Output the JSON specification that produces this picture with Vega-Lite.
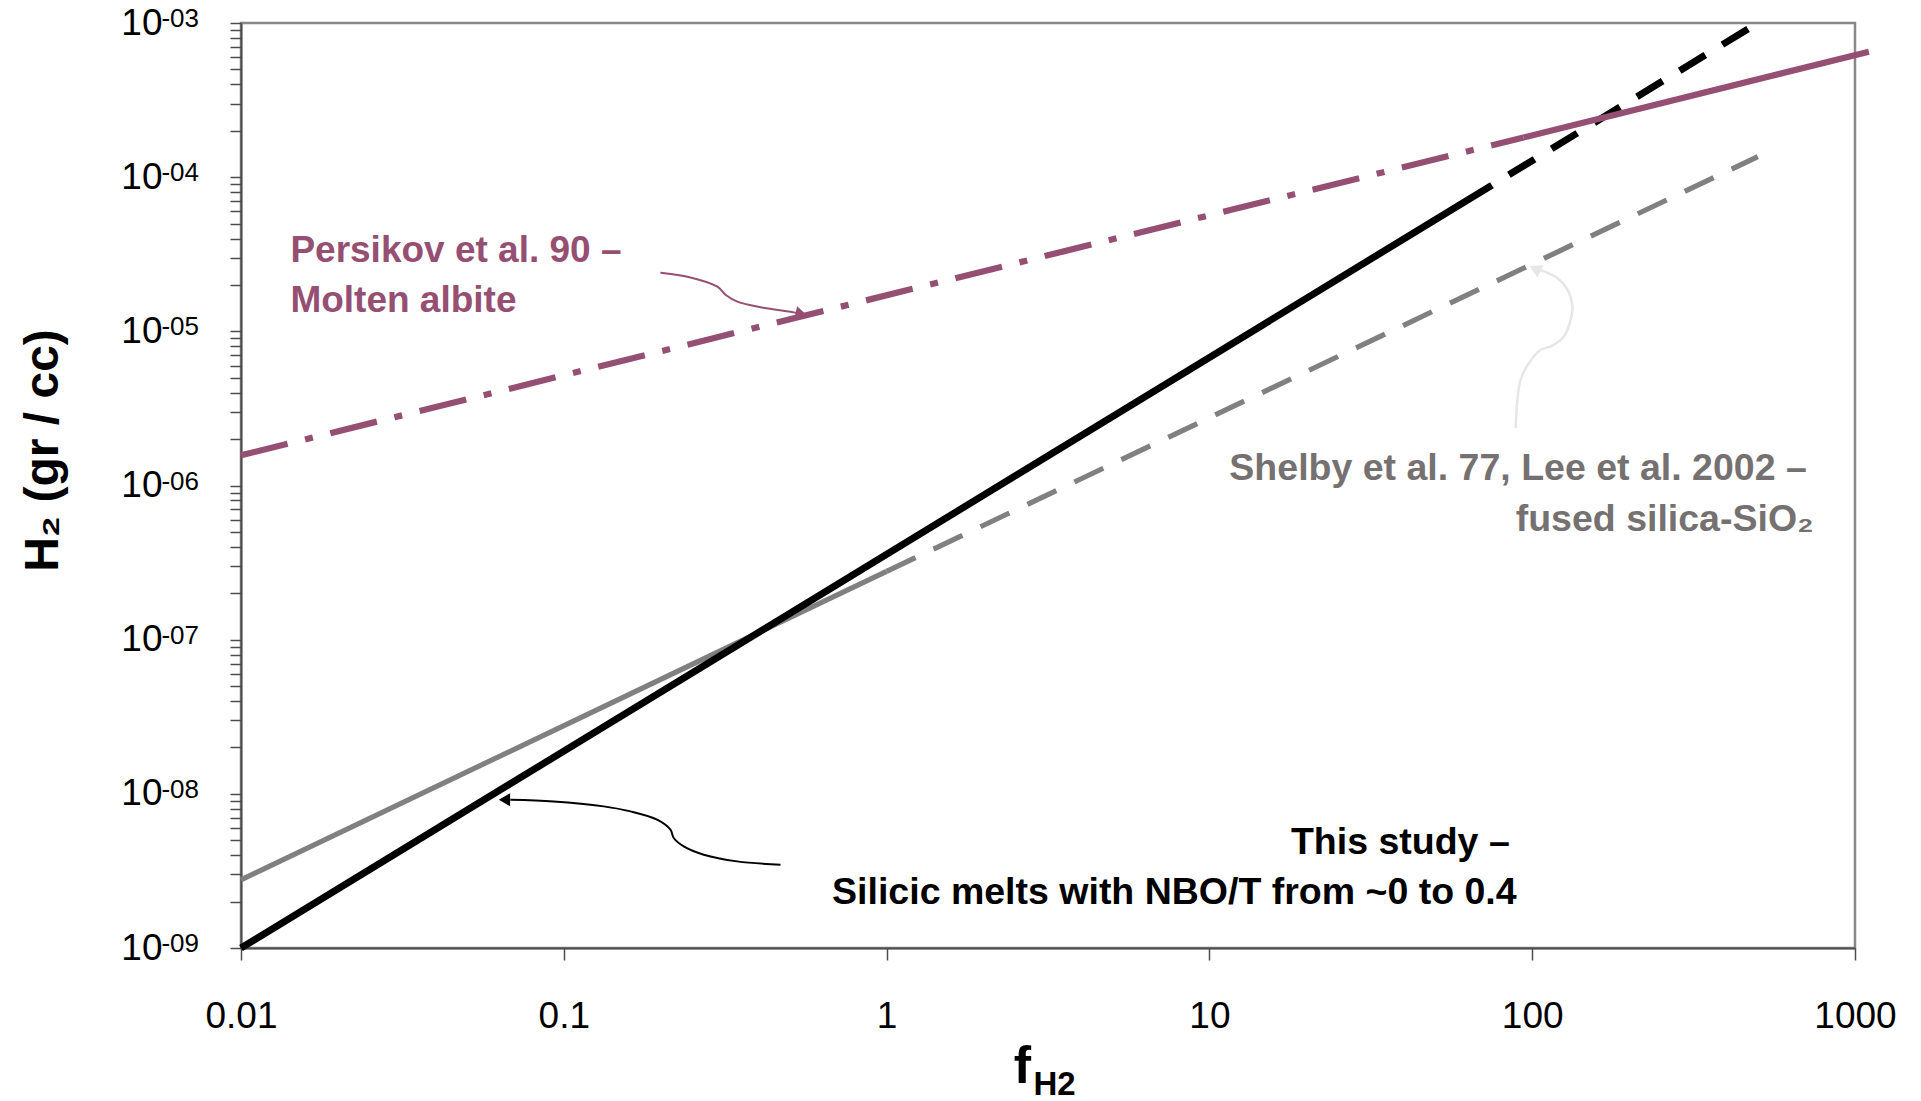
{
  "$schema": "https://vega.github.io/schema/vega-lite/v6.json",
  "width": 1614,
  "height": 925,
  "autosize": {"type": "none"},
  "padding": {"left": 241, "top": 23, "right": 66, "bottom": 153},
  "background": "white",
  "config": {
    "view": {"stroke": "#888888", "strokeWidth": 2.5},
    "font": "Liberation Sans",
    "axis": {
      "grid": false,
      "labelFont": "Liberation Sans",
      "labelColor": "#000000",
      "titleFont": "Liberation Sans",
      "titleColor": "#000000",
      "domainColor": "#4d4d4d",
      "domainWidth": 2,
      "tickColor": "#4d4d4d",
      "tickWidth": 1.5,
      "tickSize": 12
    }
  },
  "datasets": {
    "lines": [
      {"series": "Shelby et al. 77, Lee et al. 2002", "part": "solid", "x": 0.01, "y": 2.77e-9},
      {"series": "Shelby et al. 77, Lee et al. 2002", "part": "solid", "x": 1, "y": 2.77e-7},
      {"series": "Shelby et al. 77, Lee et al. 2002", "part": "dashed", "x": 1, "y": 2.77e-7},
      {"series": "Shelby et al. 77, Lee et al. 2002", "part": "dashed", "x": 500, "y": 1.36e-4},
      {"series": "This study", "part": "solid", "x": 0.01, "y": 1.0e-9},
      {"series": "This study", "part": "solid", "x": 75, "y": 8.87e-5},
      {"series": "This study", "part": "dashed", "x": 75, "y": 8.87e-5},
      {"series": "This study", "part": "dashed", "x": 500, "y": 1.0e-3},
      {"series": "Persikov et al. 90", "part": "dashdot", "x": 0.01, "y": 1.57e-6},
      {"series": "Persikov et al. 90", "part": "dashdot", "x": 94, "y": 1.81e-4},
      {"series": "Persikov et al. 90", "part": "solid", "x": 94, "y": 1.81e-4},
      {"series": "Persikov et al. 90", "part": "solid", "x": 1104, "y": 6.52e-4}
    ],
    "arrows": [
      {"arrow": "persikov", "order": 1, "x": 0.1992, "y": 2.401e-5},
      {"arrow": "persikov", "order": 2, "x": 0.2415, "y": 2.262e-5},
      {"arrow": "persikov", "order": 3, "x": 0.2992, "y": 1.948e-5},
      {"arrow": "persikov", "order": 4, "x": 0.3168, "y": 1.728e-5},
      {"arrow": "persikov", "order": 5, "x": 0.3451, "y": 1.557e-5},
      {"arrow": "persikov", "order": 6, "x": 0.4154, "y": 1.423e-5},
      {"arrow": "persikov", "order": 7, "x": 0.5037, "y": 1.341e-5},
      {"arrow": "persikov", "order": 8, "x": 0.541, "y": 1.301e-5},
      {"arrow": "study", "order": 1, "x": 0.469, "y": 3.471e-9},
      {"arrow": "study", "order": 2, "x": 0.3443, "y": 3.647e-9},
      {"arrow": "study", "order": 3, "x": 0.2714, "y": 4.03e-9},
      {"arrow": "study", "order": 4, "x": 0.2353, "y": 4.562e-9},
      {"arrow": "study", "order": 5, "x": 0.2191, "y": 5.171e-9},
      {"arrow": "study", "order": 6, "x": 0.214, "y": 5.853e-9},
      {"arrow": "study", "order": 7, "x": 0.1946, "y": 6.796e-9},
      {"arrow": "study", "order": 8, "x": 0.1609, "y": 7.693e-9},
      {"arrow": "study", "order": 9, "x": 0.1329, "y": 8.291e-9},
      {"arrow": "study", "order": 10, "x": 0.093, "y": 8.93e-9},
      {"arrow": "study", "order": 11, "x": 0.0683, "y": 9.16e-9},
      {"arrow": "shelby", "order": 1, "x": 88.9, "y": 2.36e-6},
      {"arrow": "shelby", "order": 2, "x": 89.97, "y": 3.602e-6},
      {"arrow": "shelby", "order": 3, "x": 92.1, "y": 4.857e-6},
      {"arrow": "shelby", "order": 4, "x": 97.7, "y": 6.232e-6},
      {"arrow": "shelby", "order": 5, "x": 106.3, "y": 7.601e-6},
      {"arrow": "shelby", "order": 6, "x": 114.1, "y": 7.985e-6},
      {"arrow": "shelby", "order": 7, "x": 125.5, "y": 9.27e-6},
      {"arrow": "shelby", "order": 8, "x": 131.6, "y": 1.19e-5},
      {"arrow": "shelby", "order": 9, "x": 133.2, "y": 1.451e-5},
      {"arrow": "shelby", "order": 10, "x": 128.6, "y": 1.863e-5},
      {"arrow": "shelby", "order": 11, "x": 119.7, "y": 2.218e-5},
      {"arrow": "shelby", "order": 12, "x": 108.8, "y": 2.447e-5},
      {"arrow": "shelby", "order": 13, "x": 103.5, "y": 2.52e-5}
    ],
    "heads": [
      {"arrow": "persikov", "x": 0.545, "y": 1.29e-5},
      {"arrow": "study", "x": 0.0655, "y": 9.16e-9},
      {"arrow": "shelby", "x": 102.0, "y": 2.55e-5}
    ],
    "exponents": [
      {"x": 0.01, "y": 1e-9, "text": "-09"},
      {"x": 0.01, "y": 1e-8, "text": "-08"},
      {"x": 0.01, "y": 1e-7, "text": "-07"},
      {"x": 0.01, "y": 1e-6, "text": "-06"},
      {"x": 0.01, "y": 1e-5, "text": "-05"},
      {"x": 0.01, "y": 1e-4, "text": "-04"},
      {"x": 0.01, "y": 1e-3, "text": "-03"}
    ],
    "labels": [
      {"group": "persikov", "text": "Persikov et al. 90 –", "x": 0.014222, "y": 2.829e-5},
      {"group": "persikov", "text": "Molten albite", "x": 0.014222, "y": 1.341e-5},
      {"group": "shelby", "text": "Shelby et al. 77, Lee et al. 2002 –", "x": 708.9, "y": 1.091e-6},
      {"group": "shelby", "text": "fused silica-SiO₂", "x": 745, "y": 5.09e-7},
      {"group": "study", "text": "This study –", "x": 85.2, "y": 4.07e-9},
      {"group": "study", "text": "Silicic melts with NBO/T from ~0 to 0.4", "x": 89.5, "y": 1.93e-9},
      {"group": "sub", "text": "H2", "x": 2.85, "y": 1.12e-10}
    ]
  },
  "encoding": {
    "x": {
      "field": "x",
      "type": "quantitative",
      "scale": {"type": "log", "domain": [0.01, 1000], "nice": false},
      "axis": {
        "values": [0.01, 0.1, 1, 10, 100, 1000],
        "format": "~g",
        "labelFontSize": 37,
        "labelPadding": 38,
        "labelFlush": false,
        "labelOverlap": false,
        "title": "f",
        "titleFontSize": 52,
        "titleFontWeight": "bold",
        "titleX": 781,
        "titleY": 134,
        "titleBaseline": "alphabetic",
        "titleAlign": "center"
      }
    },
    "y": {
      "field": "y",
      "type": "quantitative",
      "scale": {"type": "log", "domain": [1e-9, 1e-3], "nice": false},
      "axis": {
        "values": [1e-9, 2e-9, 3e-9, 4e-9, 5e-9, 6e-9, 7e-9, 8e-9, 9e-9,
                   1e-8, 2e-8, 3e-8, 4e-8, 5e-8, 6e-8, 7e-8, 8e-8, 9e-8,
                   1e-7, 2e-7, 3e-7, 4e-7, 5e-7, 6e-7, 7e-7, 8e-7, 9e-7,
                   1e-6, 2e-6, 3e-6, 4e-6, 5e-6, 6e-6, 7e-6, 8e-6, 9e-6,
                   1e-5, 2e-5, 3e-5, 4e-5, 5e-5, 6e-5, 7e-5, 8e-5, 9e-5,
                   1e-4, 2e-4, 3e-4, 4e-4, 5e-4, 6e-4, 7e-4, 8e-4, 9e-4, 1e-3],
        "labelExpr": "(datum.value == 1e-9 || datum.value == 1e-8 || datum.value == 1e-7 || datum.value == 1e-6 || datum.value == 1e-5 || datum.value == 1e-4 || datum.value == 1e-3) ? '10' : ''",
        "labelFontSize": 37,
        "labelPadding": 68,
        "labelFlush": false,
        "labelOverlap": false,
        "tickSize": 11,
        "title": "H₂ (gr / cc)",
        "titleFontSize": 48,
        "titleFontWeight": "bold",
        "titleAngle": 270,
        "titleX": -184,
        "titleY": 427,
        "titleBaseline": "alphabetic",
        "titleAlign": "center"
      }
    }
  },
  "layer": [
    {
      "data": {"name": "lines"},
      "transform": [{"filter": "datum.series == 'Shelby et al. 77, Lee et al. 2002' && datum.part == 'solid'"}],
      "mark": {"type": "line", "color": "#808080", "strokeWidth": 5.2, "strokeCap": "butt"}
    },
    {
      "data": {"name": "lines"},
      "transform": [{"filter": "datum.series == 'Shelby et al. 77, Lee et al. 2002' && datum.part == 'dashed'"}],
      "mark": {"type": "line", "color": "#808080", "strokeWidth": 5.2, "strokeCap": "butt", "strokeDash": [32, 20]}
    },
    {
      "data": {"name": "lines"},
      "transform": [{"filter": "datum.series == 'This study' && datum.part == 'solid'"}],
      "mark": {"type": "line", "color": "#000000", "strokeWidth": 7, "strokeCap": "butt"}
    },
    {
      "data": {"name": "lines"},
      "transform": [{"filter": "datum.series == 'This study' && datum.part == 'dashed'"}],
      "mark": {"type": "line", "color": "#000000", "strokeWidth": 7, "strokeCap": "butt", "strokeDash": [30, 20], "strokeDashOffset": 30}
    },
    {
      "data": {"name": "lines"},
      "transform": [{"filter": "datum.series == 'Persikov et al. 90' && datum.part == 'dashdot'"}],
      "mark": {"type": "line", "color": "#954F72", "strokeWidth": 6.2, "strokeCap": "butt", "strokeDash": [48, 18, 8, 18]}
    },
    {
      "data": {"name": "lines"},
      "transform": [{"filter": "datum.series == 'Persikov et al. 90' && datum.part == 'solid'"}],
      "mark": {"type": "line", "color": "#954F72", "strokeWidth": 6.2, "strokeCap": "butt"}
    },
    {
      "data": {"name": "arrows"},
      "transform": [{"filter": "datum.arrow == 'persikov'"}],
      "mark": {"type": "line", "color": "#954F72", "strokeWidth": 2, "interpolate": "catmull-rom"},
      "encoding": {"order": {"field": "order", "type": "quantitative"}}
    },
    {
      "data": {"name": "arrows"},
      "transform": [{"filter": "datum.arrow == 'study'"}],
      "mark": {"type": "line", "color": "#000000", "strokeWidth": 2, "interpolate": "catmull-rom"},
      "encoding": {"order": {"field": "order", "type": "quantitative"}}
    },
    {
      "data": {"name": "arrows"},
      "transform": [{"filter": "datum.arrow == 'shelby'"}],
      "mark": {"type": "line", "color": "#e6e6e6", "strokeWidth": 2.5, "interpolate": "catmull-rom"},
      "encoding": {"order": {"field": "order", "type": "quantitative"}}
    },
    {
      "data": {"name": "heads"},
      "transform": [{"filter": "datum.arrow == 'persikov'"}],
      "mark": {"type": "point", "shape": "triangle-right", "filled": true, "color": "#954F72", "size": 190, "angle": 12, "opacity": 1}
    },
    {
      "data": {"name": "heads"},
      "transform": [{"filter": "datum.arrow == 'study'"}],
      "mark": {"type": "point", "shape": "triangle-left", "filled": true, "color": "#000000", "size": 170, "angle": 0, "opacity": 1}
    },
    {
      "data": {"name": "heads"},
      "transform": [{"filter": "datum.arrow == 'shelby'"}],
      "mark": {"type": "point", "shape": "triangle-left", "filled": true, "color": "#e6e6e6", "size": 190, "angle": 25, "opacity": 1}
    },
    {
      "data": {"name": "exponents"},
      "mark": {"type": "text", "align": "right", "baseline": "alphabetic", "fontSize": 26, "color": "#000000", "dx": -42, "dy": 4},
      "encoding": {"text": {"field": "text"}}
    },
    {
      "data": {"name": "labels"},
      "transform": [{"filter": "datum.group == 'persikov'"}],
      "mark": {"type": "text", "align": "left", "baseline": "alphabetic", "fontSize": 37, "fontWeight": "bold", "color": "#954F72"},
      "encoding": {"text": {"field": "text"}}
    },
    {
      "data": {"name": "labels"},
      "transform": [{"filter": "datum.group == 'shelby'"}],
      "mark": {"type": "text", "align": "right", "baseline": "alphabetic", "fontSize": 37.5, "fontWeight": "bold", "color": "#767171"},
      "encoding": {"text": {"field": "text"}}
    },
    {
      "data": {"name": "labels"},
      "transform": [{"filter": "datum.group == 'study'"}],
      "mark": {"type": "text", "align": "right", "baseline": "alphabetic", "fontSize": 37.5, "fontWeight": "bold", "color": "#000000"},
      "encoding": {"text": {"field": "text"}}
    },
    {
      "data": {"name": "labels"},
      "transform": [{"filter": "datum.group == 'sub'"}],
      "mark": {"type": "text", "align": "left", "baseline": "alphabetic", "fontSize": 33, "fontWeight": "bold", "color": "#000000"},
      "encoding": {"text": {"field": "text"}}
    }
  ]
}
